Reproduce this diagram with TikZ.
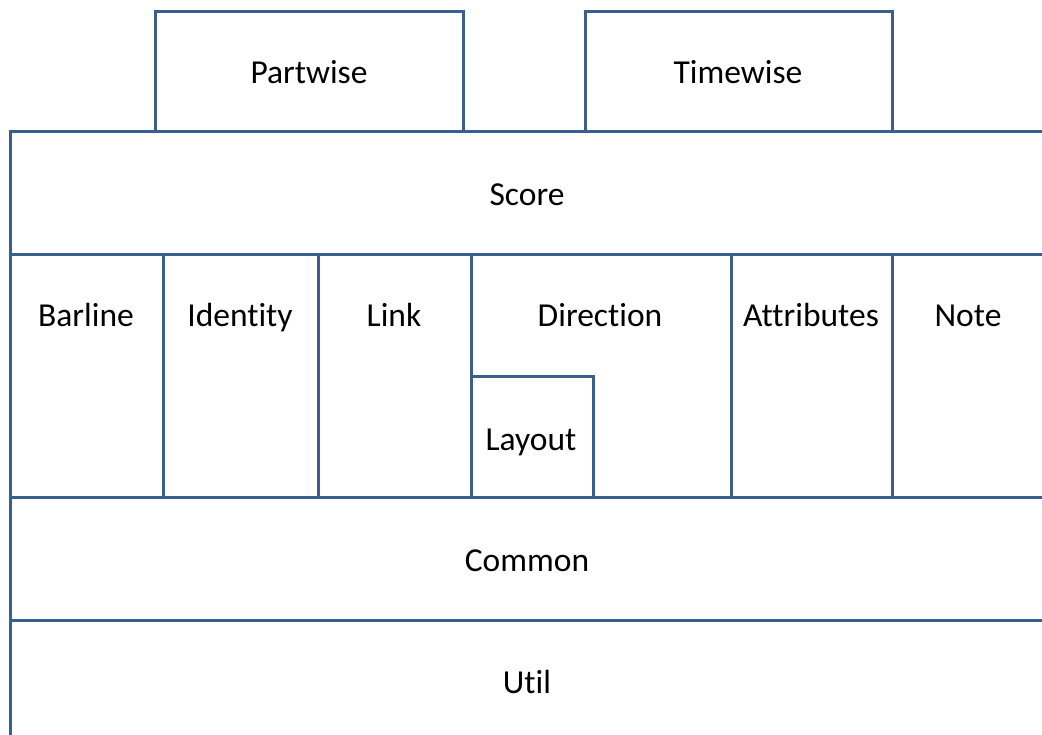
\documentclass[tikz,border=0pt]{standalone}
\usepackage{fontspec}
\setmainfont{Carlito}[Ligatures={NoCommon}]
\definecolor{edge}{HTML}{3A5F8F}
\begin{document}
\begin{tikzpicture}[x=1pt,y=-1pt,
  box/.style={draw=edge,line width=3pt,inner sep=0pt,outer sep=0pt},
  lbl/.style={font=\fontsize{33.5}{36}\selectfont,text=black,inner sep=0pt,anchor=base}]
\useasboundingbox (0,0) rectangle (1042,735);
\clip (0,0) rectangle (1042,735);
% top boxes
\draw[box] (155,132) -- (155,12) -- (463,12) -- (463,132);
\draw[box] (585,132) -- (585,12) -- (892,12) -- (892,132);
% layers
\draw[box] (10,132) rectangle (1045,255);
\draw[box] (10,255) rectangle (1045,497);
\draw[box] (10,497) rectangle (1045,620);
\draw[box] (10,620) rectangle (1045,745);
% row dividers
\foreach \x in {163,318,471,731,892} \draw[box] (\x,255) -- (\x,497);
\draw[box] (471,377) -- (593,377) -- (593,497);
% labels
\node[lbl] (partwise) at (309,84) {Partwise};
\node[lbl] (timewise) at (738,84) {Timewise};
\node[lbl] (score) at (527,206) {Score};
\node[lbl] (barline) at (86,327) {Barline};
\node[lbl] (identity) at (240,327) {Identity};
\node[lbl] (link) at (394,327) {Link};
\node[lbl] (direction) at (600,327) {Direction};
\node[lbl] (attributes) at (811,327) {Attributes};
\node[lbl] (note) at (968,327) {Note};
\node[lbl] (layout) at (531,450) {Layout};
\node[lbl] (common) at (527,571) {Common};
\node[lbl] (util) at (527,693) {Util};
\end{tikzpicture}
\end{document}
